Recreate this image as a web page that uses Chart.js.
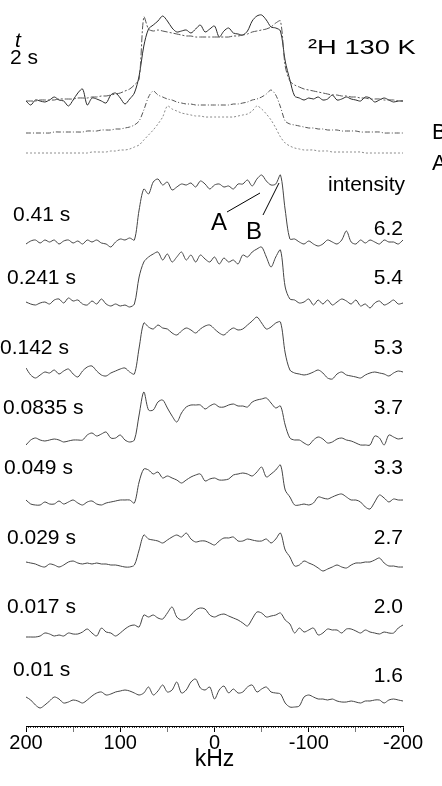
<!DOCTYPE html>
<html>
<head>
<meta charset="utf-8">
<script src="https://cdn.jsdelivr.net/npm/chart.js@4.4.1/dist/chart.umd.min.js"></script>
<style>
  html, body { margin: 0; padding: 0; background: #fff; }
  #wrap { width: 442px; height: 786px; position: relative; }
</style>
</head>
<body>
<div id="wrap"><canvas id="chartSpectra"></canvas></div>
<script>
// frequency axis, kHz (5 kHz steps)
var freqKHz = [200,195,190,185,180,175,170,165,160,155,150,145,140,135,130,125,120,115,110,105,
  100,95,90,85,80,75,70,65,60,55,50,45,40,35,30,25,20,15,10,5,
  0,-5,-10,-15,-20,-25,-30,-35,-40,-45,-50,-55,-60,-65,-70,-75,-80,-85,-90,-95,
  -100,-105,-110,-115,-120,-125,-130,-135,-140,-145,-150,-155,-160,-165,-170,-175,-180,-185,-190,-195,-200];

var tickLabels = [200, 100, 0, -100, -200];

// top block: experiment at 2 s plus simulation (sum, component B, component A)
var spec2s = [0,-4,1,0,-1,1,4,1,0,-5, 1,8,12,-4,3,2,0,-2,6,8, 3,-3,2,8,25,55,72,76,80,85,
  80,73,69,70,71,68,72,76,69,72, 75,64,70,73,68,67,66,70,80,85, 86,81,74,73,70,40,21,5,3,1,
  3,2,4,1,2,6,1,2,4,2, 1,0,4,3,-1,1,3,1,-1,0, 0];
var simSum = [0,0,0,1,1,1,1,2,2,2, 2,3,3,3,4,4,5,5,6,7, 8,10,12,16,22,84,72,70,71,70,
  69,68,67,66,65,65,64,64,64,64, 64,64,64,64,65,65,66,67,69,70, 71,72,74,78,80,35,20,16,14,12,
  11,10,9,8,7,6,6,5,5,4, 4,3,3,2,2,2,1,1,1,0, 0];
var simB = [0,0,0,0,0,0,1,1,1,1, 1,1,1,2,2,2,3,3,3,4, 4,5,6,8,12,23,36,42,38,36,
  34,33,31,30,29,29,28,28,28,28, 28,28,28,28,29,29,30,31,33,34, 36,39,43,38,26,12,9,8,7,6,
  5,5,4,4,3,3,3,2,2,2, 2,1,1,1,1,1,0,0,0,0, 0];
var simA = [0,0,0,0,0,0,0,0,0,0, 0,0,0,0,1,1,1,1,2,2, 3,3,4,6,8,13,18,23,29,36,
  47,44,42,40,39,38,37,37,36,36, 36,36,36,36,36,37,38,39,42,47, 44,39,33,25,16,10,7,5,4,3,
  3,3,2,2,2,1,1,1,1,1, 1,1,0,0,0,0,0,0,0,0, 0];

// recovery series
var spec041 = [-2,1,2,-1,2,0,2,-2,1,2, -1,1,-2,2,0,2,-1,-2,-5,0, 3,2,4,2,32,53,48,60,63,57,
  60,52,55,58,57,59,55,61,58,53, 57,58,55,56,53,58,58,62,56,63, 67,61,57,58,67,32,3,3,0,-2,
  1,-2,-4,-2,2,0,-2,2,11,0, -2,2,-1,2,0,-2,2,0,0,-2, 2];
var spec0241 = [0,-2,-3,-1,0,-2,2,3,-1,4, 1,2,-2,-3,1,-2,3,-2,-4,-2, -4,-3,-5,-2,25,40,45,48,50,42,
  48,40,45,50,42,47,40,47,43,40, 45,38,44,40,42,38,47,45,50,53, 55,45,35,45,52,15,3,2,-1,0,
  3,-3,2,-2,2,-3,0,3,1,-2, 2,-4,-2,-6,-1,1,-3,-1,2,-2, -1];
var spec0142 = [5,-2,-5,-2,1,0,3,-1,2,4, -1,-4,2,6,7,2,-2,-3,0,2, 4,5,1,-1,25,50,46,44,48,45,
  44,40,38,42,45,43,40,44,47,48, 44,40,38,42,45,43,44,48,52,56, 50,44,46,50,51,20,3,0,-1,-2,
  -1,1,3,0,-5,-6,-1,1,-2,-3, -4,-5,-2,0,1,0,-1,-3,0,2, 1];
var spec00835 = [-5,0,2,0,-1,0,1,0,-2,-1, 0,0,0,5,7,4,6,8,2,2, 5,0,-2,0,25,48,30,30,38,40,
  32,24,18,27,33,35,35,35,31,34, 36,33,33,35,36,34,34,33,38,40, 41,42,37,32,34,15,2,0,0,-3,
  -5,0,3,1,-3,-2,1,2,0,-1, -3,-5,-5,-5,4,2,-5,5,3,1, 2];
var spec0049 = [2,-2,-3,-3,0,-2,-2,1,-2,0, 2,-1,-3,0,1,-2,-3,-1,0,1, 2,2,2,-1,20,33,32,28,30,24,
  26,24,22,19,22,25,27,28,21,23, 24,22,22,23,27,28,29,28,26,30, 35,25,28,32,37,12,5,-3,-3,-2,
  -3,-1,5,4,3,5,7,8,5,2, 2,0,-5,-7,0,7,4,0,3,2, 2];
var spec0029 = [3,2,1,-1,-2,1,0,-2,0,3, 4,2,1,2,1,2,1,1,0,0, -1,-2,-2,0,15,30,26,25,24,22,
  25,28,30,28,32,26,23,24,24,22, 20,24,27,27,28,24,24,26,25,24, 24,26,22,26,32,15,8,-1,0,4,
  2,0,-3,-6,-4,-2,0,-2,-3,0, 2,2,3,3,5,7,2,-1,-1,-2, -2];
var spec0017 = [-2,-2,-2,-1,2,1,-1,0,-1,2, 1,1,3,6,2,-1,7,3,2,-1, 2,6,9,10,8,20,18,20,17,16,
  22,28,18,15,16,20,25,27,26,20, 18,20,21,19,17,15,12,9,16,23, 22,18,19,20,22,15,11,2,7,3,
  5,7,0,2,6,5,5,2,6,6, 4,2,5,3,2,1,3,2,2,7, 10];
var spec001 = [8,5,0,-3,0,4,8,6,2,3, 5,4,2,5,9,12,13,10,11,13, 14,15,14,12,10,12,18,10,14,20,
  13,15,23,12,15,23,26,17,15,18, 6,15,19,12,16,12,13,18,20,13, 16,18,13,12,11,2,-2,-2,-1,8,
  10,8,6,6,5,6,4,3,3,4, 3,2,4,4,5,5,2,5,6,5, 4];

var delayLabels = ["0.41 s", "0.241 s", "0.142 s", "0.0835 s", "0.049 s", "0.029 s", "0.017 s", "0.01 s"];
var intensities = ["6.2", "5.4", "5.3", "3.7", "3.3", "2.7", "2.0", "1.6"];

// vertical stacking offsets of each trace
var stackOffsets = { sum: 625, B: 593, A: 573, series: [484, 424, 353, 286, 224, 161, 91, 21] };

(function () {
  var FONT = "'Liberation Sans', Arial, sans-serif";

  function pts(values, offset) {
    return freqKHz.map(function (f, i) { return { x: f, y: offset + values[i] }; });
  }
  function line(values, offset, color, dash) {
    return {
      data: pts(values, offset), borderColor: color, borderWidth: 1,
      borderDash: dash || [], pointRadius: 0, tension: 0.3, fill: false
    };
  }

  var series = [spec041, spec0241, spec0142, spec00835, spec0049, spec0029, spec0017, spec001];
  var datasets = [
    line(simA, stackOffsets.A, '#8a8a8a', [2, 2]),
    line(simB, stackOffsets.B, '#555', [5, 2, 1, 2]),
    line(simSum, stackOffsets.sum, '#555', [7, 2, 2, 2]),
    line(spec2s, stackOffsets.sum, '#2a2a2a')
  ];
  series.forEach(function (s, k) { datasets.push(line(s, stackOffsets.series[k], '#444')); });

  /**
   * Text labels and A/B pointers
   */
  var labelsPlugin = {
    id: 'labels',
    afterDraw: function (chart) {
      var ctx = chart.ctx;
      var rowY = [215, 278, 348, 408, 468, 538, 607, 670];
      var rowX = [13, 7, 0, 3, 4, 7, 7, 13];
      var valY = [229, 278, 348, 408, 468, 538, 607, 676];
      ctx.save();
      ctx.fillStyle = '#000';
      ctx.textBaseline = 'middle';
      ctx.font = '21px ' + FONT;
      ctx.textAlign = 'left';
      delayLabels.forEach(function (t, k) { ctx.fillText(t, rowX[k], rowY[k]); });
      ctx.textAlign = 'right';
      intensities.forEach(function (t, k) { ctx.fillText(t, 403, valY[k]); });
      ctx.fillText('intensity', 405, 185);

      ctx.textAlign = 'left';
      ctx.font = 'italic 21px ' + FONT;
      ctx.fillText('t', 15, 41);
      ctx.font = '21px ' + FONT;
      ctx.fillText('2 s', 10, 58);

      // title is drawn horizontally stretched, as in the original figure
      ctx.save();
      ctx.translate(308, 48);
      ctx.scale(1.3, 1);
      ctx.font = '21px ' + FONT;
      ctx.fillText('\u00B2H 130 K', 0, 0);
      ctx.restore();

      ctx.font = '22px ' + FONT;
      ctx.fillText('B', 432, 133);
      ctx.fillText('A', 432, 164);
      ctx.font = '24px ' + FONT;
      ctx.fillText('A', 211, 223);
      ctx.fillText('B', 246, 232);

      ctx.strokeStyle = '#000';
      ctx.lineWidth = 1;
      ctx.beginPath();
      ctx.moveTo(227, 212); ctx.lineTo(260, 193);
      ctx.moveTo(263, 215); ctx.lineTo(279, 183);
      ctx.stroke();
      ctx.restore();
    }
  };

  var ctx = document.getElementById('chartSpectra').getContext('2d');
  new Chart(ctx, {
    type: 'line',
    data: { datasets: datasets },
    options: {
      responsive: true,
      maintainAspectRatio: false,
      animation: false,
      layout: { padding: { left: 26, right: 39, top: 0, bottom: 0 } },
      plugins: { legend: { display: false }, tooltip: { enabled: false } },
      scales: {
        x: {
          type: 'linear', min: -200, max: 200, reverse: true,
          afterFit: function (s) { s.height = 60; },
          border: { display: true, color: '#000', width: 1 },
          grid: {
            drawOnChartArea: false, drawTicks: true, tickLength: 6,
            tickColor: function (c) { return c.tick && c.tick.value % 100 === 0 ? '#000' : '#777'; }
          },
          ticks: {
            stepSize: 50, autoSkip: false, maxRotation: 0, padding: -1, color: '#000',
            font: { family: FONT, size: 20 },
            callback: function (v) { return tickLabels.indexOf(v) >= 0 ? String(v) : ''; }
          },
          title: { display: true, text: 'kHz', color: '#000', font: { family: FONT, size: 23 }, padding: { top: 0, bottom: 13 } }
        },
        xMinor: {
          type: 'linear', min: -200, max: 200, reverse: true, position: { y: 0 },
          border: { display: false },
          grid: { drawOnChartArea: false, drawTicks: true, tickLength: 2, tickColor: '#444' },
          ticks: { stepSize: 2.5, display: false }
        },
        y: { type: 'linear', min: 0, max: 726, display: false }
      }
    },
    plugins: [labelsPlugin]
  });
})();
</script>
</body>
</html>
